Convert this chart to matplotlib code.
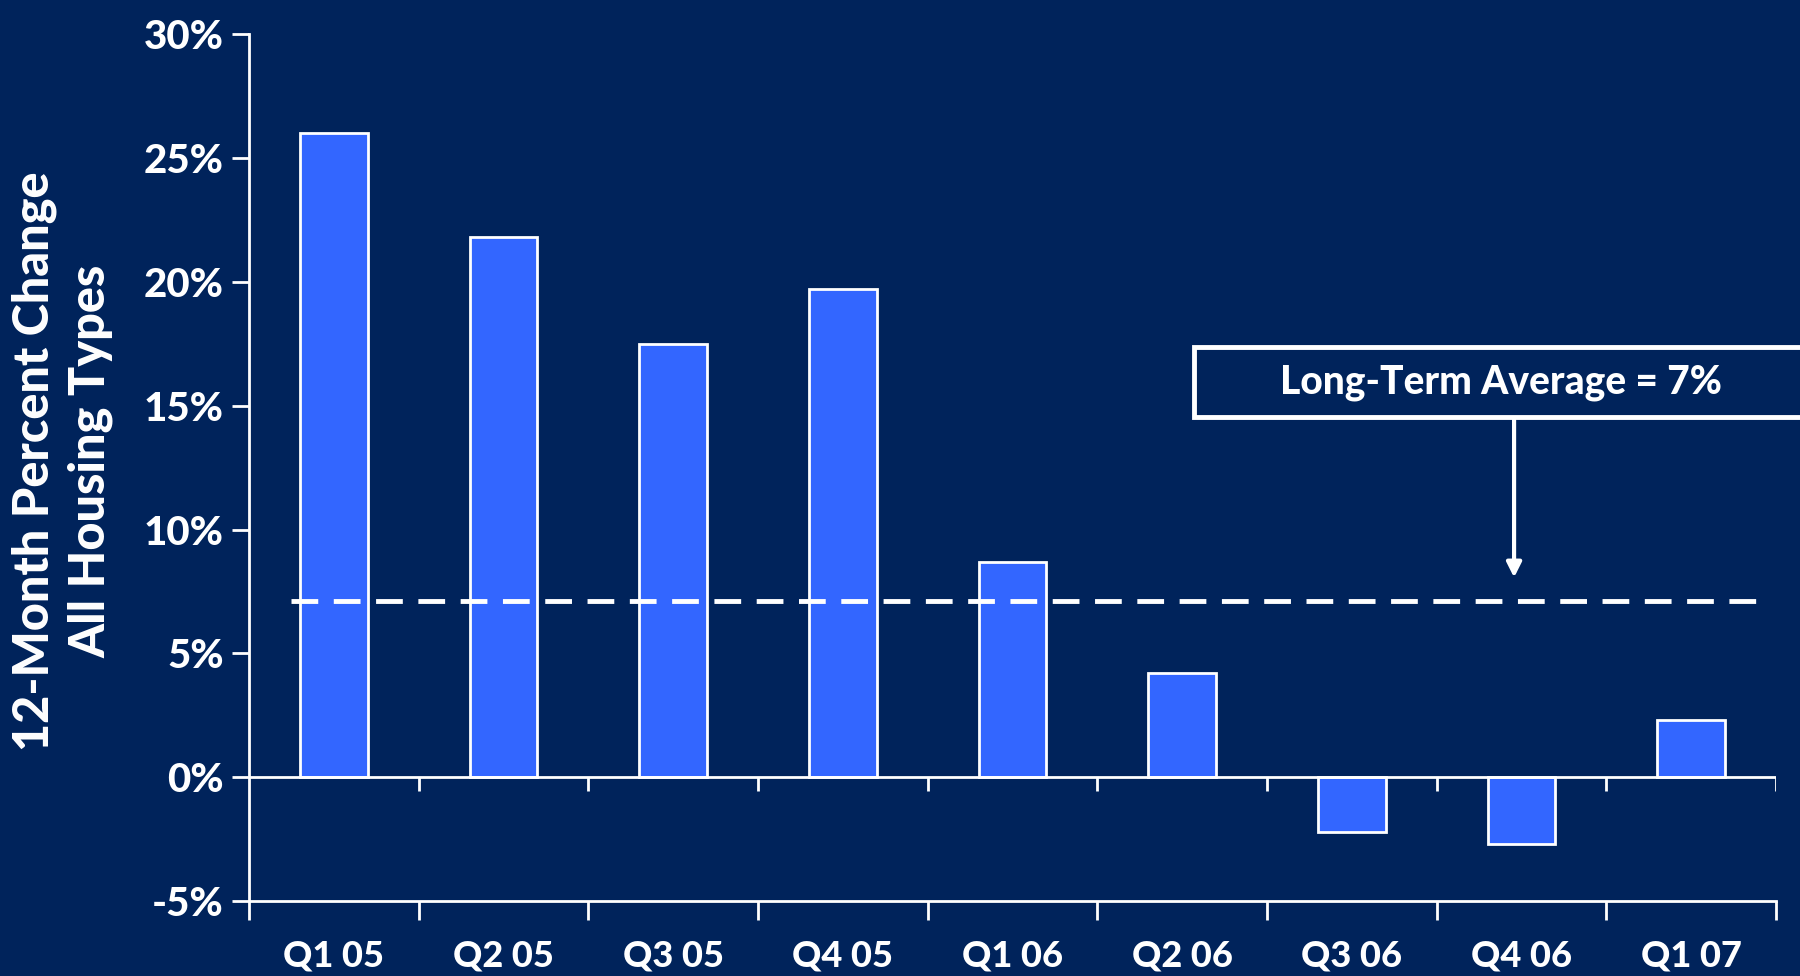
import numpy as np
import matplotlib.pyplot as plt
from matplotlib.patches import Rectangle

# data
quarters = ['Q1 05', 'Q2 05', 'Q3 05', 'Q4 05', 'Q1 06', 'Q2 06', 'Q3 06', 'Q4 06', 'Q1 07']
pct_change = [26.0, 21.8, 17.5, 19.7, 8.7, 4.2, -2.2, -2.7, 2.3]
long_term_avg = 7.1
y_ticks = [-5, 0, 5, 10, 15, 20, 25, 30]
y_labels = ['-5%', '0%', '5%', '10%', '15%', '20%', '25%', '30%']

bg = '#00235B'
bar_col = '#3366FF'
W = 'black'  # font weight
plt.rcParams['font.family'] = ['Lato', 'DejaVu Sans']

fig = plt.figure(figsize=(18, 9.76), dpi=100, facecolor=bg)
ax = fig.add_axes([0.1383, 0.0768, 0.8484, 0.8882], facecolor=bg)

x = np.arange(len(quarters))
ax.bar(x, pct_change, width=0.4, color=bar_col, edgecolor='white', linewidth=2, zorder=2)

ax.set_xlim(-0.5, len(quarters) - 0.5)
ax.set_ylim(-5, 30)

# zero line with its own ticks at category boundaries
ax.axhline(0, color='white', lw=2, zorder=3)
bounds = np.arange(len(quarters)) + 0.5
ax.vlines(bounds, -0.55, 0, color='white', lw=2, zorder=3)

# long-term average
ax.hlines(long_term_avg, -0.25, 8.4, color='white', lw=3.5, linestyles=(0, (5.5, 3.2)), zorder=4)

# spines
for s in ['top', 'right']:
    ax.spines[s].set_visible(False)
for s in ['left', 'bottom']:
    ax.spines[s].set_color('white')
    ax.spines[s].set_linewidth(2)

ax.set_yticks(y_ticks)
ax.set_yticklabels(y_labels)
ax.tick_params(axis='y', colors='white', length=12, width=2, labelsize=29, pad=6)

ax.set_xticks(np.arange(len(quarters) + 1) - 0.5)
ax.set_xticklabels([])
ax.set_xticks(x, minor=True)
ax.set_xticklabels(quarters, minor=True)
ax.tick_params(axis='x', which='major', colors='white', length=14, width=2)
ax.tick_params(axis='x', which='minor', colors='white', length=0, labelsize=26, pad=28)
for lab in ax.get_yticklabels() + ax.get_xticklabels(minor=True):
    lab.set_fontweight(W)

fig.text(0.0345, 0.527, '12-Month Percent Change\nAll Housing Types', rotation=90,
         color='white', fontsize=35, fontweight=W, ha='center', va='center',
         multialignment='center', linespacing=1.3)

# annotation box and arrow
box = Rectangle((5.068, 14.54), 3.6, 2.83, facecolor=bg, edgecolor='white', lw=3.5,
                clip_on=False, zorder=5)
ax.add_patch(box)
ax.text(6.88, 15.95, 'Long-Term Average = 7%', color='white', fontsize=28,
        fontweight=W, ha='center', va='center', zorder=6)
ax.annotate('', xy=(6.956, 7.95), xytext=(6.956, 14.54),
            arrowprops=dict(arrowstyle='-|>', color='white', lw=3, mutation_scale=22),
            zorder=5)

fig.savefig('out.png', dpi=100, facecolor=bg)
